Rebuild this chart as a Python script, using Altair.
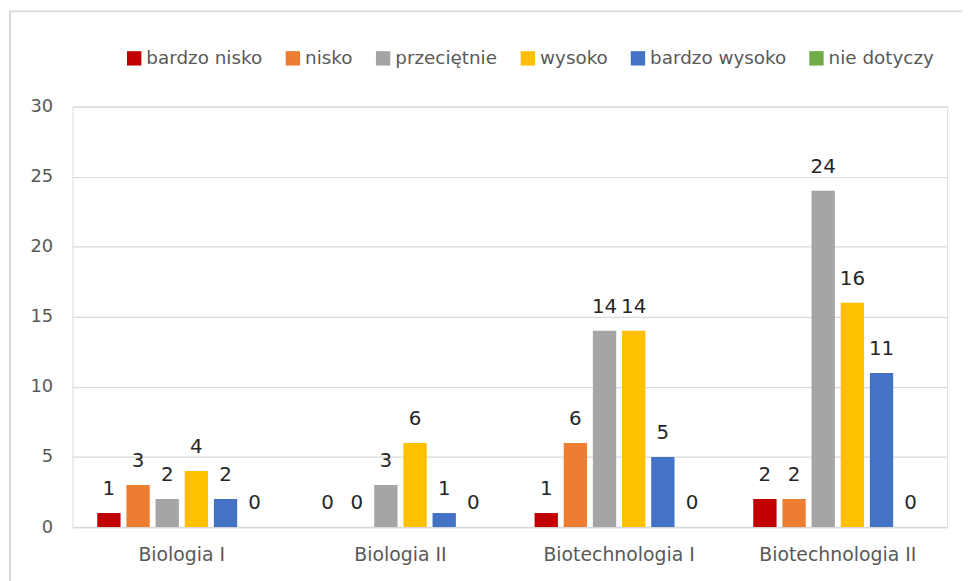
import altair as alt
import pandas as pd

categories = ["Biologia I", "Biologia II", "Biotechnologia I", "Biotechnologia II"]
series = ["bardzo nisko", "nisko", "przeciętnie", "wysoko", "bardzo wysoko", "nie dotyczy"]
colors = ["#c00000", "#ed7d31", "#a5a5a5", "#ffc000", "#4472c4", "#70ad47"]
values = {
    "bardzo nisko": [1, 0, 1, 2],
    "nisko": [3, 0, 6, 2],
    "przeciętnie": [2, 3, 14, 24],
    "wysoko": [4, 6, 14, 16],
    "bardzo wysoko": [2, 1, 5, 11],
    "nie dotyczy": [0, 0, 0, 0],
}

rows = []
for s in series:
    for c, v in zip(categories, values[s]):
        rows.append({"kategoria": c, "seria": s, "wartosc": v})
df = pd.DataFrame(rows)

FONT = "DejaVu Sans"
W, H = 882, 424

x = alt.X("kategoria:N", sort=categories, title=None,
          scale=alt.Scale(paddingInner=0.2, paddingOuter=0.1),
          axis=alt.Axis(labelAngle=0, labelFontSize=19, labelColor="#595959", labelFont=FONT,
                        ticks=False, domainColor="#d9d9d9", domainWidth=1.5, labelPadding=19))
xoff = alt.XOffset("seria:N", sort=series, scale=alt.Scale(paddingInner=0.2, paddingOuter=0.1))
y = alt.Y("wartosc:Q", title=None,
          scale=alt.Scale(domain=[0, 30]),
          axis=alt.Axis(values=[0, 5, 10, 15, 20, 25, 30], labelFontSize=18, labelColor="#595959",
                        labelFont=FONT, ticks=False, domain=False, gridColor="#d9d9d9",
                        gridWidth=1.2, labelPadding=20))
color = alt.Color("seria:N", sort=series, scale=alt.Scale(domain=series, range=colors),
                  legend=alt.Legend(title=None, orient="none", legendX=53, legendY=-58,
                                    direction="horizontal", symbolType="square", symbolSize=210,
                                    symbolStrokeWidth=0, labelFontSize=18.5, labelColor="#595959",
                                    labelFont=FONT, columnPadding=21, symbolOffset=0,
                                    labelOffset=3, columns=6))

base = alt.Chart(df)
bars = base.mark_bar().encode(x=x, xOffset=xoff, y=y, color=color)
labels = base.mark_text(baseline="bottom", dy=-14, fontSize=20, font=FONT, color="#262626").encode(
    x=x, xOffset=xoff, y=y, text=alt.Text("wartosc:Q"))

frame = alt.Chart(pd.DataFrame({"a": [0]})).mark_rect(
    fill=None, stroke="#d9d9d9", strokeWidth=2, clip=False).encode(
    x=alt.value(-63), x2=alt.value(W + 40), y=alt.value(-96), y2=alt.value(H + 80))

chart = alt.layer(frame, bars, labels).properties(
    width=W, height=H,
    autosize=alt.AutoSizeParams(type="none"),
    padding={"left": 65, "top": 97, "right": 15, "bottom": 52},
).configure_view(stroke=None).configure(background="white")

chart.save("out.html", embed_options={"renderer": "svg", "actions": False})
